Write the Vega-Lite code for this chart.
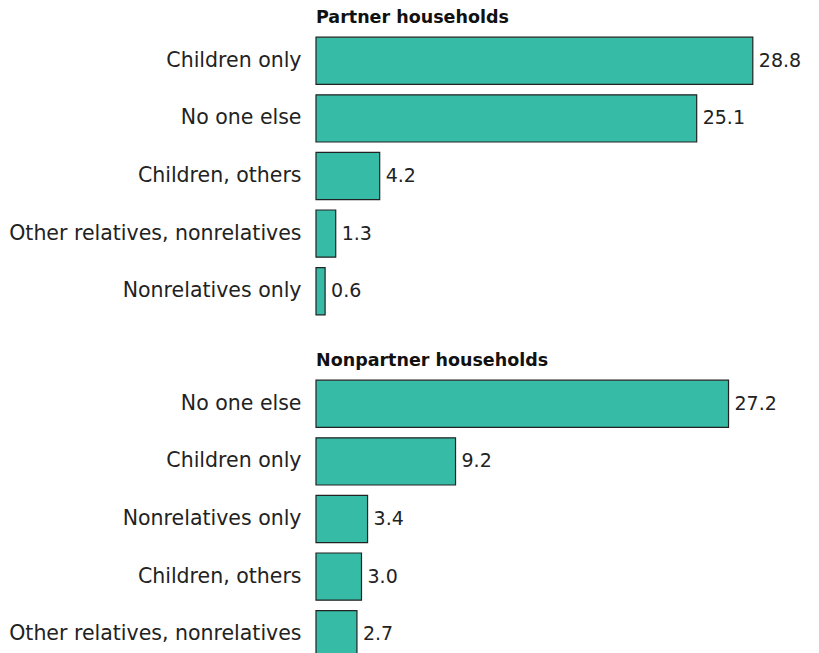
{
  "$schema": "https://vega.github.io/schema/vega-lite/v6.json",
  "padding": {"left": 8, "top": 8, "right": 5, "bottom": 5},
  "background": "white",
  "datasets": {
    "partner": [
      {"category": "Children only", "value": 28.8, "order": 1},
      {"category": "No one else", "value": 25.1, "order": 2},
      {"category": "Children, others", "value": 4.2, "order": 3},
      {"category": "Other relatives, nonrelatives", "value": 1.3, "order": 4},
      {"category": "Nonrelatives only", "value": 0.6, "order": 5}
    ],
    "nonpartner": [
      {"category": "No one else", "value": 27.2, "order": 1},
      {"category": "Children only", "value": 9.2, "order": 2},
      {"category": "Nonrelatives only", "value": 3.4, "order": 3},
      {"category": "Children, others", "value": 3.0, "order": 4},
      {"category": "Other relatives, nonrelatives", "value": 2.7, "order": 5}
    ]
  },
  "spacing": 31,
  "vconcat": [
    {
      "title": {"text": "Partner households"},
      "width": 455,
      "height": 288,
      "data": {"name": "partner"},
      "encoding": {
        "y": {"field": "category", "type": "nominal", "sort": {"field": "order"}, "title": null,
              "scale": {"paddingInner": 0.18, "paddingOuter": 0.09}},
        "x": {"field": "value", "type": "quantitative", "scale": {"domain": [0, 30]}, "axis": null}
      },
      "layer": [
        {"mark": {"type": "bar", "color": "#36BBA6", "stroke": "#222222", "strokeWidth": 1.2}},
        {"mark": {"type": "text", "align": "left", "baseline": "middle", "dx": 6, "fontSize": 19, "font": "DejaVu Sans", "color": "#222222"},
         "encoding": {"text": {"field": "value", "type": "quantitative", "format": ".1f"}}}
      ]
    },
    {
      "title": {"text": "Nonpartner households"},
      "width": 455,
      "height": 288,
      "data": {"name": "nonpartner"},
      "encoding": {
        "y": {"field": "category", "type": "nominal", "sort": {"field": "order"}, "title": null,
              "scale": {"paddingInner": 0.18, "paddingOuter": 0.09}},
        "x": {"field": "value", "type": "quantitative", "scale": {"domain": [0, 30]}, "axis": null}
      },
      "layer": [
        {"mark": {"type": "bar", "color": "#36BBA6", "stroke": "#222222", "strokeWidth": 1.2}},
        {"mark": {"type": "text", "align": "left", "baseline": "middle", "dx": 6, "fontSize": 19, "font": "DejaVu Sans", "color": "#222222"},
         "encoding": {"text": {"field": "value", "type": "quantitative", "format": ".1f"}}}
      ]
    }
  ],
  "config": {
    "view": {"stroke": null},
    "title": {"anchor": "start", "font": "DejaVu Sans", "fontSize": 17.5, "fontWeight": "bold", "color": "#111111", "offset": 6, "frame": "group"},
    "axisY": {"domain": false, "ticks": false, "labelFont": "DejaVu Sans", "labelFontSize": 20.5, "labelColor": "#222222", "labelPadding": 15, "labelLimit": 400}
  }
}
